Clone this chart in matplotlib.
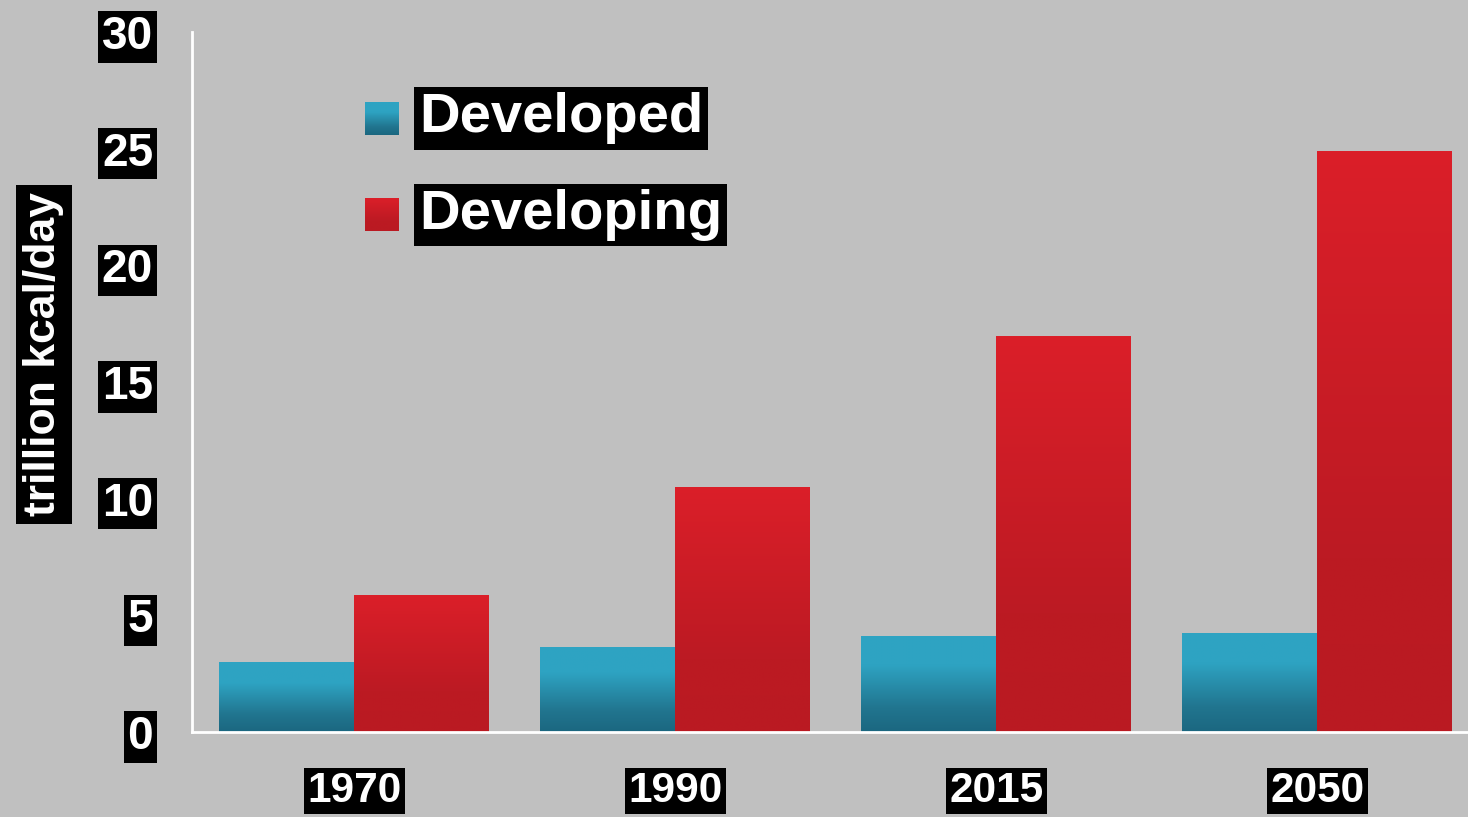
import numpy as np
import matplotlib
matplotlib.use("Agg")
import matplotlib.pyplot as plt
from matplotlib.colors import LinearSegmentedColormap

years = ["1970", "1990", "2015", "2050"]
developed = [3.0, 3.64, 4.11, 4.24]
developing = [5.83, 10.46, 16.93, 24.86]
yticks = [0, 5, 10, 15, 20, 25, 30]
series_names = ["Developed", "Developing"]
ylabel = "trillion kcal/day"

BG = "#C0C0C0"
blue_cmap = LinearSegmentedColormap.from_list(
    "b", [(0.0, "#1B6780"), (0.25, "#21758F"), (0.7, "#2EA3C2"), (1.0, "#2EA4C3")])
red_cmap = LinearSegmentedColormap.from_list(
    "r", [(0.0, "#BA1A22"), (0.3, "#BC1A23"), (1.0, "#DB1F29")])

plt.rcParams['font.family'] = ['Liberation Sans', 'DejaVu Sans']
plt.rcParams['font.weight'] = 'bold'

fig = plt.figure(figsize=(14.68, 8.17), dpi=100, facecolor=BG)
ax = fig.add_axes([192/1468, 85/817, 1 - 192/1468, 700/817])
ax.set_facecolor(BG)

x = np.arange(len(years))
w = 0.42
grad = np.linspace(0, 1, 256).reshape(-1, 1)

def grad_bars(xpos, vals, cmap):
    bars = ax.bar(xpos, vals, w, color='none', edgecolor='none')
    for b in bars:
        x0, y0 = b.get_x(), b.get_y()
        ax.imshow(grad, extent=[x0, x0 + b.get_width(), y0, y0 + b.get_height()],
                  aspect='auto', cmap=cmap, origin='lower', zorder=2,
                  interpolation='bilinear')
    return bars

grad_bars(x - w / 2, developed, blue_cmap)
grad_bars(x + w / 2, developing, red_cmap)

ax.set_xlim(-0.505, 3.47)
ax.set_ylim(0, 30)
ax.set_aspect('auto')

for s in ['top', 'right']:
    ax.spines[s].set_visible(False)
for s in ['left', 'bottom']:
    ax.spines[s].set_color('white')
    ax.spines[s].set_linewidth(2)
    ax.spines[s].set_zorder(3)

ax.set_yticks(yticks)
ax.set_yticklabels([str(v) for v in yticks])
ax.set_xticks(x)
ax.set_xticklabels(years)
ax.tick_params(axis='y', length=0, pad=28, labelsize=33, labelcolor='white')
ax.tick_params(axis='x', length=0, pad=28, labelsize=30.5, labelcolor='white')
for t in ax.get_yticklabels():
    t.set_fontweight('bold')
    t.set_bbox(dict(facecolor='black', edgecolor='none', pad=2.5))
for t in ax.get_xticklabels():
    t.set_fontweight('bold')
    t.set_bbox(dict(facecolor='black', edgecolor='none', pad=2.5))

fig.text(44/1468, 1 - 354.5/817, ylabel, rotation=90, ha='center', va='center',
         fontsize=32, fontweight='bold', color='white',
         bbox=dict(facecolor='black', edgecolor='none', pad=5))

# legend
leg_rows = [(118.5, blue_cmap), (215, red_cmap)]
for name, (yc, cm) in zip(series_names, leg_rows):
    fig.text(419/1468, 1 - yc/817, name, ha='left', va='center',
             fontsize=40.5, fontweight='bold', color='white',
             bbox=dict(facecolor='black', edgecolor='none', pad=3.5))
    ax.imshow(grad, extent=[(365-192)/1276, (399-192)/1276,
                            (732-(yc+16.5))/700, (732-(yc-16.5))/700],
              transform=ax.transAxes, aspect='auto', cmap=cm, origin='lower',
              zorder=4, clip_on=False)

ax.set_xlim(-0.505, 3.47)
ax.set_ylim(0, 30)

fig.savefig("out.png", dpi=100, facecolor=BG)
